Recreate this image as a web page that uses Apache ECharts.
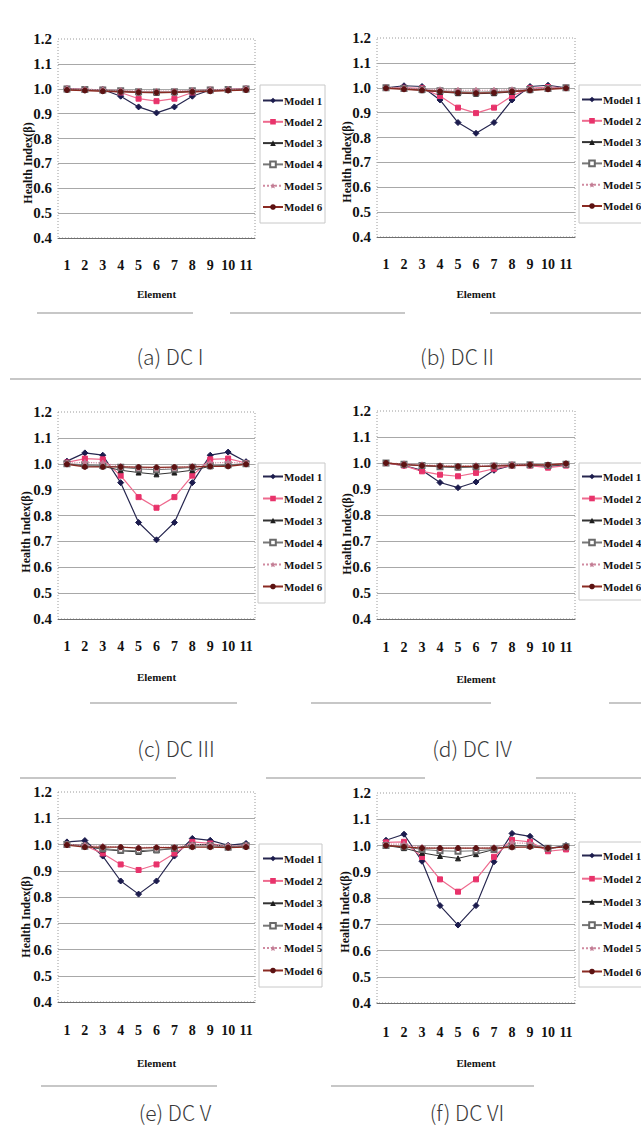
<!DOCTYPE html>
<html><head><meta charset="utf-8">
<script src="https://cdn.jsdelivr.net/npm/echarts@6/dist/echarts.min.js"></script>
<style>html,body{margin:0;padding:0;background:#fff}#c{width:641px;height:1134px}</style>
</head><body><div id="c"></div>
<script>
// ---------- data ----------
const elements = ['1','2','3','4','5','6','7','8','9','10','11'];
const seriesNames = ['Model 1','Model 2','Model 3','Model 4','Model 5','Model 6'];
const yTickLabels = ['0.4','0.5','0.6','0.7','0.8','0.9','1.0','1.1','1.2'];
const panelCaptions = ['(a) DC I','(b) DC II','(c) DC III','(d) DC IV','(e) DC V','(f) DC VI'];
const xAxisTitle = 'Element';
const yAxisTitle = 'Health Index(β)';

// (a) DC I
const dc1Model1 = [1.0, 0.998, 0.997, 0.970, 0.927, 0.903, 0.927, 0.970, 0.995, 0.998, 1.0];
const dc1Model2 = [1.0, 0.998, 0.996, 0.985, 0.960, 0.950, 0.960, 0.985, 0.996, 0.998, 1.0];
const dc1Model3 = [0.998, 0.996, 0.994, 0.990, 0.985, 0.984, 0.985, 0.990, 0.994, 0.996, 0.998];
const dc1Model4 = [0.999, 0.997, 0.995, 0.992, 0.988, 0.987, 0.988, 0.992, 0.995, 0.997, 0.999];
const dc1Model5 = [1.0, 0.998, 0.996, 0.994, 0.991, 0.990, 0.991, 0.994, 0.996, 0.998, 1.0];
const dc1Model6 = [0.995, 0.993, 0.990, 0.988, 0.986, 0.985, 0.986, 0.988, 0.990, 0.993, 0.995];
// (b) DC II
const dc2Model1 = [1.0, 1.008, 1.005, 0.951, 0.860, 0.817, 0.860, 0.951, 1.005, 1.010, 1.0];
const dc2Model2 = [1.0, 1.0, 0.998, 0.967, 0.920, 0.898, 0.920, 0.967, 0.998, 1.003, 1.0];
const dc2Model3 = [1.0, 0.995, 0.990, 0.983, 0.978, 0.976, 0.978, 0.983, 0.990, 0.995, 1.0];
const dc2Model4 = [1.0, 0.997, 0.993, 0.988, 0.984, 0.982, 0.984, 0.988, 0.993, 0.997, 1.0];
const dc2Model5 = [1.0, 0.998, 0.996, 0.992, 0.990, 0.990, 0.990, 0.992, 0.996, 0.998, 1.0];
const dc2Model6 = [0.998, 0.994, 0.990, 0.985, 0.980, 0.978, 0.980, 0.985, 0.990, 0.994, 0.998];
// (c) DC III
const dc3Model1 = [1.010, 1.042, 1.033, 0.927, 0.773, 0.706, 0.773, 0.927, 1.033, 1.045, 1.008];
const dc3Model2 = [1.005, 1.020, 1.017, 0.954, 0.871, 0.830, 0.871, 0.954, 1.017, 1.020, 1.003];
const dc3Model3 = [1.0, 0.992, 0.990, 0.975, 0.966, 0.959, 0.966, 0.975, 0.990, 0.994, 1.0];
const dc3Model4 = [1.0, 0.996, 0.993, 0.986, 0.980, 0.977, 0.980, 0.986, 0.993, 0.996, 1.0];
const dc3Model5 = [1.002, 1.005, 1.003, 0.990, 0.985, 0.983, 0.985, 0.990, 1.003, 1.005, 1.002];
const dc3Model6 = [0.998, 0.988, 0.988, 0.988, 0.987, 0.986, 0.987, 0.988, 0.990, 0.990, 0.998];
// (d) DC IV
const dc4Model1 = [1.0, 0.990, 0.972, 0.925, 0.905, 0.927, 0.972, 0.991, 0.991, 0.987, 0.994];
const dc4Model2 = [1.0, 0.990, 0.968, 0.955, 0.949, 0.962, 0.978, 0.990, 0.990, 0.982, 0.990];
const dc4Model3 = [1.0, 0.995, 0.990, 0.985, 0.983, 0.985, 0.990, 0.993, 0.993, 0.990, 0.995];
const dc4Model4 = [1.0, 0.995, 0.990, 0.986, 0.985, 0.986, 0.988, 0.992, 0.993, 0.990, 0.995];
const dc4Model5 = [1.0, 0.997, 0.993, 0.990, 0.988, 0.990, 0.992, 0.995, 0.995, 0.993, 0.997];
const dc4Model6 = [1.0, 0.994, 0.990, 0.988, 0.987, 0.987, 0.988, 0.990, 0.993, 0.993, 0.998];
// (e) DC V
const dc5Model1 = [1.010, 1.015, 0.956, 0.861, 0.811, 0.861, 0.956, 1.023, 1.016, 0.997, 1.004];
const dc5Model2 = [1.0, 0.995, 0.966, 0.924, 0.903, 0.924, 0.966, 1.010, 1.004, 0.990, 0.995];
const dc5Model3 = [1.0, 0.995, 0.981, 0.976, 0.972, 0.978, 0.985, 1.0, 1.0, 0.992, 0.995];
const dc5Model4 = [1.0, 0.993, 0.985, 0.978, 0.976, 0.980, 0.985, 0.995, 0.995, 0.990, 0.995];
const dc5Model5 = [1.0, 0.997, 0.993, 0.990, 0.988, 0.990, 0.990, 1.0, 0.998, 0.995, 0.997];
const dc5Model6 = [0.998, 0.990, 0.990, 0.990, 0.986, 0.988, 0.988, 0.990, 0.990, 0.988, 0.990];
// (f) DC VI
const dc6Model1 = [1.020, 1.043, 0.940, 0.771, 0.697, 0.771, 0.938, 1.046, 1.035, 0.988, 1.0];
const dc6Model2 = [1.012, 1.014, 0.956, 0.871, 0.824, 0.871, 0.957, 1.021, 1.014, 0.978, 0.985];
const dc6Model3 = [1.0, 0.990, 0.972, 0.960, 0.951, 0.967, 0.985, 1.0, 1.0, 0.990, 0.995];
const dc6Model4 = [1.0, 0.995, 0.985, 0.980, 0.978, 0.980, 0.985, 0.998, 1.0, 0.990, 0.995];
const dc6Model5 = [1.005, 1.005, 0.993, 0.990, 0.990, 0.990, 0.992, 1.010, 1.008, 0.990, 0.995];
const dc6Model6 = [1.0, 0.995, 0.990, 0.990, 0.990, 0.990, 0.990, 0.993, 0.995, 0.990, 0.995];

const panelData = [
  [dc1Model1, dc1Model2, dc1Model3, dc1Model4, dc1Model5, dc1Model6],
  [dc2Model1, dc2Model2, dc2Model3, dc2Model4, dc2Model5, dc2Model6],
  [dc3Model1, dc3Model2, dc3Model3, dc3Model4, dc3Model5, dc3Model6],
  [dc4Model1, dc4Model2, dc4Model3, dc4Model4, dc4Model5, dc4Model6],
  [dc5Model1, dc5Model2, dc5Model3, dc5Model4, dc5Model5, dc5Model6],
  [dc6Model1, dc6Model2, dc6Model3, dc6Model4, dc6Model5, dc6Model6]
];

// ---------- layout & style ----------
const layout = [
  {left:58,  top:39,  w:197, h:199, xMargin:20, nameGap:50, lgLeft:262, lgTop:95,  lgStep:22.3, box:[260,85,65,138],  yName:[28,163],  cap:[170,356]},
  {left:377, top:38,  w:198, h:199, xMargin:20, nameGap:51, lgLeft:581, lgTop:94,  lgStep:22.3, box:[579,85,70,138],  yName:[347,162], cap:[457,356]},
  {left:58,  top:412, w:197, h:207, xMargin:20, nameGap:52, lgLeft:262, lgTop:471, lgStep:23,   box:[258,463,67,140], yName:[26,532],  cap:[176,748]},
  {left:377, top:411, w:198, h:208, xMargin:21, nameGap:54, lgLeft:581, lgTop:471, lgStep:23,   box:[579,463,70,137], yName:[347,534], cap:[472,748]},
  {left:58,  top:792, w:197, h:210, xMargin:21, nameGap:55, lgLeft:262, lgTop:853, lgStep:23.4, box:[259,844,63,143], yName:[26,917],  cap:[175,1112]},
  {left:377, top:793, w:198, h:210, xMargin:22, nameGap:54, lgLeft:581, lgTop:850, lgStep:24.2, box:[579,842,70,145], yName:[345,912], cap:[467,1112]}
];
const starPath = 'path://M0,-10 L2.9,-4 9.5,-3.1 4.7,1.5 5.9,8.1 0,5 -5.9,8.1 -4.7,1.5 -9.5,-3.1 -2.9,-4 Z';
const seriesStyles = [
  {color:'#1b1b4d', line:'#26264f', symbol:'diamond',   size:6, type:'solid',  width:1.2},
  {color:'#e8336b', line:'#ee6a8e', symbol:'rect',      size:5, type:'solid',  width:1.2},
  {color:'#1e1e1e', line:'#333333', symbol:'triangle',  size:5, type:'solid',  width:1},
  {color:'#6a6a6a', line:'#777777', symbol:'emptyRect', size:5, type:'solid',  width:1},
  {color:'#c27c94', line:'#d08aa0', symbol:starPath,    size:6, type:'dotted', width:1.2},
  {color:'#5c1212', line:'#8a2a22', symbol:'circle',    size:5, type:'solid',  width:1.3}
];
const serif = '"Liberation Serif", "Times New Roman", serif';
const capFont = '300 21px "Noto Sans CJK KR", "Noto Sans", sans-serif';

const grids = [], xAxes = [], yAxes = [], series = [], legends = [], graphics = [];
layout.forEach((L, p) => {
  grids.push({left:L.left, top:L.top, width:L.w, height:L.h, containLabel:false});
  xAxes.push({
    type:'category', gridIndex:p, data:elements, boundaryGap:true,
    axisLine:{show:true, lineStyle:{color:'#6f6f6f', width:1}},
    axisTick:{show:false},
    axisLabel:{interval:0, margin:L.xMargin, color:'#111', fontFamily:serif, fontWeight:'bold', fontSize:14},
    splitLine:{show:false},
    name:xAxisTitle, nameLocation:'middle', nameGap:L.nameGap,
    nameTextStyle:{color:'#111', fontFamily:serif, fontWeight:'bold', fontSize:11}
  });
  yAxes.push({
    type:'value', gridIndex:p, min:0.4, max:1.2, interval:0.1,
    axisLine:{show:false}, axisTick:{show:false},
    axisLabel:{margin:6, color:'#111', fontFamily:serif, fontWeight:'bold', fontSize:15,
      formatter: v => yTickLabels.find(t => Math.abs(parseFloat(t) - v) < 1e-6) || ''},
    splitLine:{show:true, showMaxLine:false, showMinLine:false, lineStyle:{color:'#a8a8a8', width:1}}
  });
  panelData[p].forEach((arr, s) => {
    const st = seriesStyles[s];
    series.push({
      type:'line', name:seriesNames[s], xAxisIndex:p, yAxisIndex:p, data:arr,
      symbol:st.symbol, symbolSize:st.size, showSymbol:true,
      itemStyle:{color:st.color, borderColor:st.color},
      lineStyle:{color:st.line, width:st.width, type:st.type},
      emphasis:{disabled:true}, animation:false
    });
  });
  legends.push({
    data:seriesNames, orient:'vertical', left:L.lgLeft, top:L.lgTop,
    itemWidth:20, itemHeight:7, itemGap:L.lgStep - 12, padding:0,
    textStyle:{color:'#111', fontFamily:serif, fontWeight:'bold', fontSize:11, padding:[0,0,0,-4]},
    selectedMode:false
  });
  graphics.push({type:'rect', shape:{x:L.left, y:L.top, width:L.w, height:L.h}, silent:true, z:-1,
    style:{fill:'none', stroke:'#9a9a9a', lineWidth:1, lineDash:[1,2]}});
  graphics.push({type:'rect', shape:{x:L.box[0], y:L.box[1], width:L.box[2], height:L.box[3]}, silent:true,
    style:{fill:'none', stroke:'#c8c8c8', lineWidth:1}});
  graphics.push({type:'text', x:L.yName[0], y:L.yName[1], rotation:Math.PI/2, silent:true,
    style:{text:yAxisTitle, font:'bold 12px ' + serif, fill:'#111', align:'center', verticalAlign:'middle', textAlign:'center', textVerticalAlign:'middle'}});
  graphics.push({type:'text', x:L.cap[0], y:L.cap[1], silent:true,
    style:{text:panelCaptions[p], font:capFont, fill:'#3a3a3a', align:'center', verticalAlign:'middle', textAlign:'center', textVerticalAlign:'middle'}});
});

const rules = [
  [313, 37, 193], [313, 230, 405], [313, 490, 641],
  [379, 10, 641],
  [703, 90, 237], [703, 311, 491], [703, 609, 641],
  [778, 20, 176], [778, 266, 425], [778, 536, 641],
  [1086, 41, 217], [1086, 331, 534]
];
rules.forEach(r => graphics.push({type:'line', silent:true, shape:{x1:r[1], y1:r[0], x2:r[2], y2:r[0]},
  style:{stroke:'#b4b4b4', lineWidth:1.5}}));

const chart = echarts.init(document.getElementById('c'), null, {renderer:'svg'});
chart.setOption({
  animation:false,
  backgroundColor:'#ffffff',
  grid:grids, xAxis:xAxes, yAxis:yAxes, series:series, legend:legends, graphic:graphics
});
</script></body></html>
